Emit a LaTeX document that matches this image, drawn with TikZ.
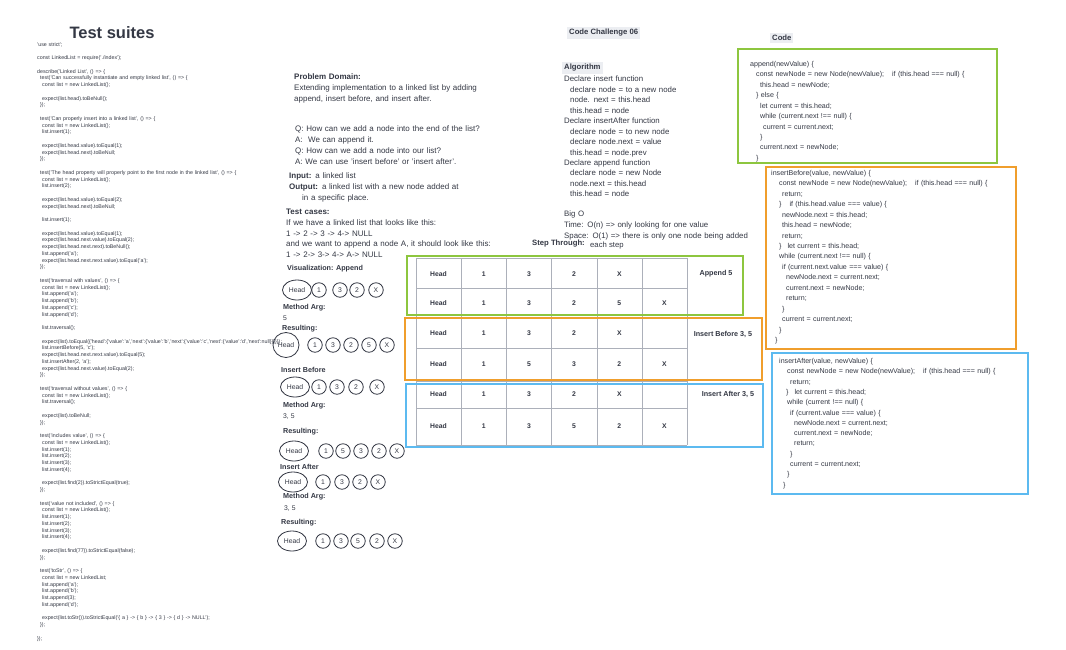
\documentclass[tikz,border=0pt]{standalone}
\usepackage{fontspec}
\setmainfont{Liberation Sans}
\usepackage{xcolor}
\usetikzlibrary{shapes.geometric, positioning}
\definecolor{inkgray}{RGB}{52,56,68}
\definecolor{gridgray}{RGB}{172,176,186}
\definecolor{boxgreen}{RGB}{141,198,63}
\definecolor{boxorange}{RGB}{240,158,44}
\definecolor{boxblue}{RGB}{92,186,240}
\definecolor{hlgray}{RGB}{236,238,242}
\newcommand{\tabin}[1]{\hspace*{#1pt}}
\tikzset{
    suitetext/.style={anchor=north west, inner sep=0pt, text width=250pt, align=left, text=inkgray, font=\fontsize{5.3}{6.75}\selectfont},
    prose/.style={anchor=north west, inner sep=0pt, text width=240pt, align=left, text=inkgray, font=\fontsize{8}{11}\selectfont},
    codetext/.style={anchor=north west, inner sep=0pt, text width=250pt, align=left, text=inkgray, font=\fontsize{7.1}{10.45}\selectfont},
    label/.style={anchor=west, inner sep=0pt, text=inkgray, font=\bfseries\fontsize{7.2}{8}\selectfont},
    highlight/.style={anchor=west, inner sep=2pt, fill=hlgray, text=inkgray, font=\bfseries\fontsize{7.7}{9}\selectfont},
    frame/.style={line width=2.5pt}
}
\begin{document}
\begin{tikzpicture}[x=1pt, y=-1pt,
  listnode/.style={circle, draw=inkgray, line width=0.8pt, minimum size=14.5pt, inner sep=0pt, text=inkgray, font=\fontsize{6.8}{7}\selectfont},
  headnode/.style={ellipse, draw=inkgray, line width=0.8pt, minimum width=29pt, minimum height=20pt, inner sep=0pt, text=inkgray, font=\fontsize{6.8}{7}\selectfont},
  cell/.style={inner sep=0pt, text=inkgray, font=\bfseries\fontsize{6.8}{7}\selectfont},
  gridline/.style={draw=gridgray, line width=1pt},
  argtext/.style={anchor=west, inner sep=0pt, text=inkgray, font=\fontsize{6.8}{7}\selectfont}]
  \fill[white] (0,0) rectangle (1066,649);
  \useasboundingbox (0,0) rectangle (1066,649);

  \node[text=inkgray, inner sep=0pt, font=\bfseries\fontsize{16.5}{18}\selectfont] (title) at (112,33) {Test suites};
  \node[suitetext] (suite) at (37,42) {'use strict';\\ ~\\
const LinkedList = require('./index');\\ ~\\
describe('Linked List', () => \{\\
\tabin{3}test('Can successfully instantiate and empty linked list', () => \{\\
\tabin{5}const list = new LinkedList();\\ ~\\
\tabin{5}expect(list.head).toBeNull();\\
\tabin{3}\});\\ ~\\
\tabin{3}test('Can properly insert into a linked list', () => \{\\
\tabin{5}const list = new LinkedList();\\
\tabin{5}list.insert(1);\\ ~\\
\tabin{5}expect(list.head.value).toEqual(1);\\
\tabin{5}expect(list.head.next).toBeNull;\\
\tabin{3}\});\\ ~\\
\tabin{3}test('The head property will properly point to the first node in the linked list', () => \{\\
\tabin{5}const list = new LinkedList();\\
\tabin{5}list.insert(2);\\ ~\\
\tabin{5}expect(list.head.value).toEqual(2);\\
\tabin{5}expect(list.head.next).toBeNull;\\ ~\\
\tabin{5}list.insert(1);\\ ~\\
\tabin{5}expect(list.head.value).toEqual(1);\\
\tabin{5}expect(list.head.next.value).toEqual(2);\\
\tabin{5}expect(list.head.next.next).toBeNull();\\
\tabin{5}list.append('a');\\
\tabin{5}expect(list.head.next.next.value).toEqual('a');\\
\tabin{3}\});\\ ~\\
\tabin{3}test('traversal with values', () => \{\\
\tabin{5}const list = new LinkedList();\\
\tabin{5}list.append('a');\\
\tabin{5}list.append('b');\\
\tabin{5}list.append('c');\\
\tabin{5}list.append('d');\\ ~\\
\tabin{5}list.traversal();\\ ~\\
\tabin{5}expect(list).toEqual(\{'head':\{'value':'a','next':\{'value':'b','next':\{'value':'c','next':\{'value':'d','next':null\}\}\}\}\});\\
\tabin{5}list.insertBefore(5, 'c');\\
\tabin{5}expect(list.head.next.next.value).toEqual(5);\\
\tabin{5}list.insertAfter(2, 'a');\\
\tabin{5}expect(list.head.next.value).toEqual(2);\\
\tabin{3}\});\\ ~\\
\tabin{3}test('traversal without values', () => \{\\
\tabin{5}const list = new LinkedList();\\
\tabin{5}list.traversal();\\ ~\\
\tabin{5}expect(list).toBeNull;\\
\tabin{3}\});\\ ~\\
\tabin{3}test('includes value', () => \{\\
\tabin{5}const list = new LinkedList();\\
\tabin{5}list.insert(1);\\
\tabin{5}list.insert(2);\\
\tabin{5}list.insert(3);\\
\tabin{5}list.insert(4);\\ ~\\
\tabin{5}expect(list.find(2)).toStrictEqual(true);\\
\tabin{3}\});\\ ~\\
\tabin{3}test('value not included', () => \{\\
\tabin{5}const list = new LinkedList();\\
\tabin{5}list.insert(1);\\
\tabin{5}list.insert(2);\\
\tabin{5}list.insert(3);\\
\tabin{5}list.insert(4);\\ ~\\
\tabin{5}expect(list.find(77)).toStrictEqual(false);\\
\tabin{3}\});\\ ~\\
\tabin{3}test('toStr', () => \{\\
\tabin{5}const list = new LinkedList;\\
\tabin{5}list.append('a');\\
\tabin{5}list.append('b');\\
\tabin{5}list.append(3);\\
\tabin{5}list.append('d');\\ ~\\
\tabin{5}expect(list.toStr()).toStrictEqual('\{ a \} -> \{ b \} -> \{ 3 \} -> \{ d \} -> NULL');\\
\tabin{3}\});\\ ~\\
\});};

  \node[prose] (domain) at (294,73) {\textbf{Problem Domain:}\\
Extending implementation to a linked list by adding\\
append, insert before, and insert after.};
  \node[prose] (questions) at (295,125) {Q: How can we add a node into the end of the list?\\
A:\ \ We can append it.\\
Q: How can we add a node into our list?\\
A: We can use 'insert before' or 'insert after'.};
  \node[prose] (io) at (289,172) {\textbf{Input:} a linked list\\
\textbf{Output:} a linked list with a new node added at\\
\tabin{13}in a specific place.};
  \node[prose, font=\fontsize{8}{10.75}\selectfont] (cases) at (286,209) {\textbf{Test cases:}\\
If we have a linked list that looks like this:\\
1 -> 2 -> 3 -> 4-> NULL\\
and we want to append a node A, it should look like this:\\
1 -> 2-> 3-> 4-> A-> NULL};

  \node[label] (vis) at (287,269) {Visualization: Append};
  \node[headnode] (headA) at (297,290) {Head};
  \foreach \cx/\v in {319/1,340/3,357/2,376/X}
    \node[listnode] (a\v) at (\cx,290) {\v};
  \node[label] (argA) at (283,308) {Method Arg:};
  \node[argtext] (valA) at (283,318) {5};
  \node[label] (resA) at (282,329) {Resulting:};
  \node[headnode, minimum width=26pt, minimum height=25pt] (headB) at (286,345) {Head};
  \foreach \cx/\v in {315/1,333/3,351/2,369/5,387/X}
    \node[listnode] (b\v) at (\cx,345) {\v};
  \node[label] (insB) at (281,370) {Insert Before};
  \node[headnode] (headC) at (295,387) {Head};
  \foreach \cx/\v in {319/1,337/3,356/2,377/X}
    \node[listnode] (c\v) at (\cx,387) {\v};
  \node[label] (argC) at (283,406) {Method Arg:};
  \node[argtext] (valC) at (283,417) {3, 5};
  \node[label] (resC) at (283,432) {Resulting:};
  \node[headnode] (headD) at (294,451) {Head};
  \foreach \cx/\v in {326/1,343/5,361/3,379/2,397/X}
    \node[listnode] (d\v) at (\cx,451) {\v};
  \node[label] (insE) at (280,467) {Insert After};
  \node[headnode] (headE) at (293,482) {Head};
  \foreach \cx/\v in {323/1,342/3,360/2,378/X}
    \node[listnode] (e\v) at (\cx,482) {\v};
  \node[label] (argE) at (283,497) {Method Arg:};
  \node[argtext] (valE) at (284,509) {3, 5};
  \node[label] (resE) at (281,523) {Resulting:};
  \node[headnode] (headF) at (292,541) {Head};
  \foreach \cx/\v in {323/1,341/3,358/5,377/2,395/X}
    \node[listnode] (f\v) at (\cx,541) {\v};

  \node[highlight] (challenge) at (567,33) {Code Challenge 06};
  \node[highlight] (algohead) at (562,68) {Algorithm};
  \node[prose, font=\fontsize{7.85}{10.45}\selectfont] (algo) at (564,76) {Declare insert function\\
\tabin{6}declare node = to a new node\\
\tabin{6}node. next = this.head\\
\tabin{6}this.head = node\\
Declare insertAfter function\\
\tabin{6}declare node = to new node\\
\tabin{6}declare node.next = value\\
\tabin{6}this.head = node.prev\\
Declare append function\\
\tabin{6}declare node = new Node\\
\tabin{6}node.next = this.head\\
\tabin{6}this.head = node};
  \node[prose, font=\fontsize{7.85}{11}\selectfont] (bigo) at (564,211) {Big O\\
Time: O(n) => only looking for one value\\
Space: O(1) => there is only one node being added};
  \node[label, font=\bfseries\fontsize{7.7}{9}\selectfont] (step) at (532,244) {Step Through:};
  \node[argtext, font=\fontsize{7.7}{9}\selectfont, right=5pt of step, yshift=-2pt] (stepnote) {each step};

  \foreach \gx in {416,461,506,551,597,642,687}
    \draw[gridline] (\gx,258) -- (\gx,445);
  \foreach \gy in {258,288,317,348,381,408,445}
    \draw[gridline] (416,\gy) -- (687,\gy);
  \foreach \ry/\vals [count=\rowi] in {274/{Head,1,3,2,X}, 303/{Head,1,3,2,5,X}, 333/{Head,1,3,2,X}, 364/{Head,1,5,3,2,X}, 394/{Head,1,3,2,X}, 426/{Head,1,3,5,2,X}}
    \foreach \v [count=\coli] in \vals
      \node[cell] (cell\rowi-\coli) at ({438.5+45.2*(\coli-1)},\ry) {\v};
  \draw[frame, boxgreen] (407,256) rectangle (743,315);
  \draw[frame, boxorange] (405,318) rectangle (762,380);
  \draw[frame, boxblue] (406,384) rectangle (763,447);
  \node[cell, font=\bfseries\fontsize{7.2}{8}\selectfont] (appendlbl) at (716,274) {Append 5};
  \node[cell, font=\bfseries\fontsize{7.2}{8}\selectfont] (beforelbl) at (723,334) {Insert Before 3, 5};
  \node[cell, font=\bfseries\fontsize{7.2}{8}\selectfont] (afterlbl) at (728,394) {Insert After 3, 5};

  \node[highlight] (codehead) at (770,38) {Code};
  \draw[frame, boxgreen] (738,49) rectangle (997,163);
  \node[codetext] (appendcode) at (750,61) {append(newValue) \{\\
\tabin{6}const newNode = new Node(newValue);\hspace{8pt}if (this.head === null) \{\\
\tabin{10}this.head = newNode;\\
\tabin{6}\} else \{\\
\tabin{10}let current = this.head;\\
\tabin{10}while (current.next !== null) \{\\
\tabin{13}current = current.next;\\
\tabin{10}\}\\
\tabin{10}current.next = newNode;\\
\tabin{6}\}};
  \draw[frame, boxorange] (766,167) rectangle (1016,349);
  \node[codetext] (beforecode) at (771,170) {insertBefore(value, newValue) \{\\
\tabin{8}const newNode = new Node(newValue);\hspace{8pt}if (this.head === null) \{\\
\tabin{11}return;\\
\tabin{8}\}\hspace{8pt}if (this.head.value === value) \{\\
\tabin{11}newNode.next = this.head;\\
\tabin{11}this.head = newNode;\\
\tabin{11}return;\\
\tabin{8}\}\hspace{6pt}let current = this.head;\\
\tabin{8}while (current.next !== null) \{\\
\tabin{11}if (current.next.value === value) \{\\
\tabin{15}newNode.next = current.next;\\
\tabin{15}current.next = newNode;\\
\tabin{15}return;\\
\tabin{11}\}\\
\tabin{11}current = current.next;\\
\tabin{8}\}\\
\tabin{4}\}};
  \draw[frame, boxblue] (772,353) rectangle (1028,494);
  \node[codetext, font=\fontsize{7.1}{10.33}\selectfont] (aftercode) at (779,358) {insertAfter(value, newValue) \{\\
\tabin{8}const newNode = new Node(newValue);\hspace{8pt}if (this.head === null) \{\\
\tabin{11}return;\\
\tabin{7}\}\hspace{6pt}let current = this.head;\\
\tabin{8}while (current !== null) \{\\
\tabin{11}if (current.value === value) \{\\
\tabin{15}newNode.next = current.next;\\
\tabin{15}current.next = newNode;\\
\tabin{15}return;\\
\tabin{11}\}\\
\tabin{11}current = current.next;\\
\tabin{8}\}\\
\tabin{4}\}};
\end{tikzpicture}
\end{document}
